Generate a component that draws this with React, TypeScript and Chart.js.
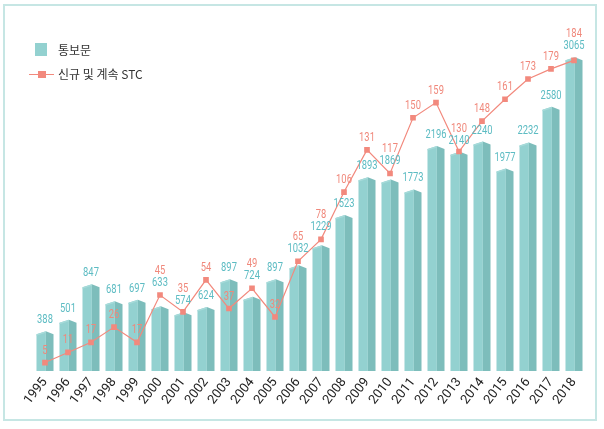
import React, { useEffect, useRef } from "react";
import { Chart, registerables } from "chart.js";

Chart.register(...registerables);

const years = ["1995","1996","1997","1998","1999","2000","2001","2002","2003","2004","2005","2006","2007","2008","2009","2010","2011","2012","2013","2014","2015","2016","2017","2018"];
const notices = [388, 501, 847, 681, 697, 633, 574, 624, 897, 724, 897, 1032, 1229, 1523, 1893, 1869, 1773, 2196, 2140, 2240, 1977, 2232, 2580, 3065];
const stcCounts = [5, 11, 17, 26, 17, 45, 35, 54, 37, 49, 32, 65, 78, 106, 131, 117, 150, 159, 130, 148, 161, 173, 179, 184];
const seriesNames = ["통보문", "신규 및 계속 STC"];

const BAR_LIGHT = "#93d1d0";
const BAR_DARK = "#7dbdbb";
const BAR_ROOF = "#a6dad9";
const LINE_COLOR = "#f2897d";
const BAR_TEXT = "#5dbcc3";
const LINE_TEXT = "#f0887b";

const prismPlugin = {
  id: "prism",
  afterDatasetDraw(chart: any, args: any) {
    if (args.meta.type !== "bar") return;
    const ctx = chart.ctx;
    ctx.save();
    args.meta.data.forEach((el: any) => {
      const { x, y, base, width } = el.getProps(["x", "y", "base", "width"], true);
      const l = x - width / 2;
      const r = x + width / 2;
      const m = l + width * 0.55;
      const roof = 3;
      ctx.fillStyle = BAR_LIGHT;
      ctx.beginPath();
      ctx.moveTo(l, base);
      ctx.lineTo(l, y + roof);
      ctx.lineTo(m, y);
      ctx.lineTo(m, base);
      ctx.closePath();
      ctx.fill();
      ctx.fillStyle = BAR_DARK;
      ctx.beginPath();
      ctx.moveTo(m, base);
      ctx.lineTo(m, y);
      ctx.lineTo(r, y + roof);
      ctx.lineTo(r, base);
      ctx.closePath();
      ctx.fill();
      ctx.fillStyle = BAR_ROOF;
      ctx.beginPath();
      ctx.moveTo(l, y + roof);
      ctx.lineTo(m, y);
      ctx.lineTo(m, y + 1.5);
      ctx.lineTo(l, y + roof + 1.5);
      ctx.closePath();
      ctx.fill();
    });
    ctx.restore();
  },
};

function drawNarrow(ctx: any, text: string, x: number, y: number, color: string) {
  ctx.save();
  ctx.translate(x, y);
  ctx.scale(0.78, 1);
  ctx.fillStyle = color;
  ctx.fillText(text, 0, 0);
  ctx.restore();
}

const labelPlugin = {
  id: "valueLabels",
  afterDatasetsDraw(chart: any) {
    const ctx = chart.ctx;
    const barMeta = chart.getDatasetMeta(0);
    const lineMeta = chart.getDatasetMeta(1);
    ctx.save();
    ctx.font = "12px Roboto";
    ctx.textAlign = "center";
    ctx.textBaseline = "middle";
    barMeta.data.forEach((bar: any, i: number) => {
      const pt = lineMeta.data[i];
      const barTop = bar.y;
      const py = pt.y;
      let barLabelY: number;
      let lineLabelY: number;
      if (py >= barTop - 4 && py <= barTop + 5) {
        barLabelY = Math.min(barTop, py) - 11;
        lineLabelY = barLabelY - 12;
      } else if (py > barTop - 18 && py < barTop - 4) {
        barLabelY = py - 12;
        lineLabelY = barLabelY - 12;
      } else {
        barLabelY = barTop - 11;
        lineLabelY = py - 12;
      }
      drawNarrow(ctx, String(notices[i]), bar.x, barLabelY, BAR_TEXT);
      drawNarrow(ctx, String(stcCounts[i]), pt.x, lineLabelY, LINE_TEXT);
    });
    ctx.restore();
  },
};

const legendPlugin = {
  id: "customLegend",
  afterDraw(chart: any) {
    const ctx = chart.ctx;
    ctx.save();
    ctx.fillStyle = BAR_LIGHT;
    ctx.fillRect(35, 43, 12, 13);
    ctx.strokeStyle = LINE_COLOR;
    ctx.lineWidth = 1;
    ctx.beginPath();
    ctx.moveTo(29, 74.5);
    ctx.lineTo(54, 74.5);
    ctx.stroke();
    ctx.fillStyle = LINE_COLOR;
    ctx.fillRect(38, 71, 8, 7);
    ctx.fillStyle = "#333333";
    ctx.font = "12px 'Noto Sans CJK KR'";
    ctx.textAlign = "left";
    ctx.textBaseline = "middle";
    ctx.fillText(seriesNames[0], 58, 50);
    ctx.fillText(seriesNames[1], 58, 74);
    ctx.restore();
  },
};

export default function App() {
  const canvasRef = useRef<HTMLCanvasElement | null>(null);

  useEffect(() => {
    if (!canvasRef.current) return;
    const chart = new Chart(canvasRef.current, {
      type: "bar",
      data: {
        labels: years,
        datasets: [
          {
            type: "bar",
            label: seriesNames[0],
            data: notices,
            backgroundColor: "rgba(0,0,0,0)",
            borderWidth: 0,
            barPercentage: 0.74,
            categoryPercentage: 1,
            yAxisID: "y",
            order: 1,
          },
          {
            type: "line",
            label: seriesNames[1],
            data: stcCounts,
            borderColor: LINE_COLOR,
            backgroundColor: LINE_COLOR,
            borderWidth: 1.2,
            pointStyle: "rect",
            pointRadius: 4,
            pointBorderWidth: 0,
            pointBackgroundColor: LINE_COLOR,
            tension: 0,
            yAxisID: "y1",
            order: 0,
          },
        ] as any,
      },
      options: {
        responsive: false,
        animation: false,
        layout: { padding: { left: 33.5, right: 18.5, top: 30, bottom: 8 } },
        plugins: {
          legend: { display: false },
          tooltip: { enabled: false },
        },
        scales: {
          x: {
            offset: true,
            grid: { display: false, drawTicks: false },
            border: { display: false },
            ticks: {
              autoSkip: false,
              minRotation: 52,
              maxRotation: 52.01,
              padding: 4,
              color: "#222222",
              font: { family: "Roboto", size: 13 },
            },
            afterFit: (scale: any) => {
              scale.height = 50;
            },
          },
          y: {
            display: false,
            min: 0,
            max: 3330,
          },
          y1: {
            display: false,
            min: 0,
            max: 202,
          },
        },
      } as any,
      plugins: [prismPlugin, labelPlugin, legendPlugin],
    });
    return () => chart.destroy();
  }, []);

  return (
    <div style={{ position: "fixed", left: 0, top: 0, width: 604, height: 429, background: "#ffffff" }}>
      <div
        style={{
          position: "absolute",
          left: 3,
          top: 4,
          width: 594,
          height: 417,
          border: "2px solid #c6e6e4",
          boxSizing: "border-box",
        }}
      />
      <canvas ref={canvasRef} width={604} height={429} style={{ position: "absolute", left: 0, top: 0 }} />
    </div>
  );
}
